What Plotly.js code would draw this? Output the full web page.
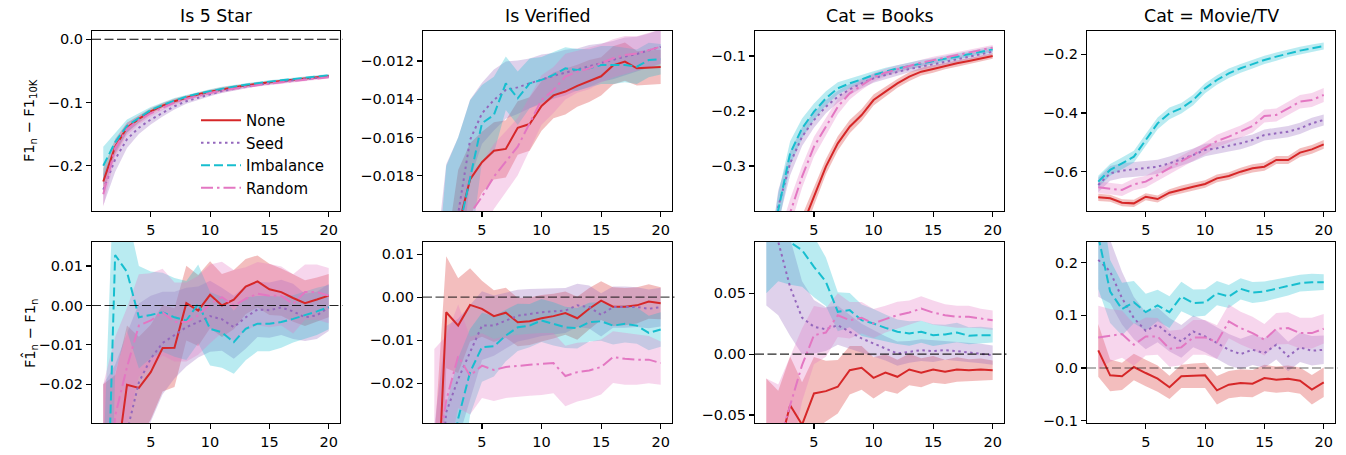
<!DOCTYPE html>
<html><head><meta charset="utf-8">
<script src="https://cdn.plot.ly/plotly-3.0.1.min.js"></script>
<style>html,body{margin:0;padding:0;background:#fff}#chart{width:1346px;height:455px}</style>
</head><body><div id="chart"></div>
<script>
// ---------------- data ----------------
const steps = [1,2,3,4,5,6,7,8,9,10,11,12,13,14,15,16,17,18,19,20];
const methods = ['None','Seed','Imbalance','Random'];
const panelTitles = ['Is 5 Star','Is Verified','Cat = Books','Cat = Movie/TV'];
const xTickVals = [5,10,15,20];

// Row 1: F1_n - F1_10K
const star_gap_mean = {
  None:      [-0.225,-0.170,-0.140,-0.126,-0.114,-0.105,-0.098,-0.092,-0.087,-0.083,-0.079,-0.076,-0.073,-0.070,-0.068,-0.066,-0.064,-0.062,-0.060,-0.058],
  Seed:      [-0.238,-0.190,-0.158,-0.140,-0.127,-0.116,-0.106,-0.098,-0.092,-0.087,-0.082,-0.078,-0.075,-0.072,-0.069,-0.067,-0.065,-0.063,-0.061,-0.059],
  Imbalance: [-0.200,-0.163,-0.137,-0.124,-0.112,-0.104,-0.097,-0.091,-0.086,-0.082,-0.078,-0.075,-0.072,-0.069,-0.067,-0.065,-0.063,-0.061,-0.059,-0.057],
  Random:    [-0.245,-0.172,-0.142,-0.128,-0.117,-0.108,-0.100,-0.094,-0.089,-0.085,-0.081,-0.078,-0.075,-0.072,-0.070,-0.068,-0.066,-0.064,-0.062,-0.060]
};
const star_gap_err = {
  None:      [0.020,0.012,0.008,0.006,0.005,0.004,0.004,0.003,0.003,0.003,0.003,0.003,0.002,0.002,0.002,0.002,0.002,0.002,0.002,0.002],
  Seed:      [0.025,0.020,0.014,0.010,0.008,0.006,0.005,0.004,0.004,0.003,0.003,0.003,0.003,0.002,0.002,0.002,0.002,0.002,0.002,0.002],
  Imbalance: [0.030,0.015,0.010,0.007,0.005,0.004,0.004,0.003,0.003,0.003,0.003,0.003,0.002,0.002,0.002,0.002,0.002,0.002,0.002,0.002],
  Random:    [0.020,0.014,0.010,0.007,0.005,0.004,0.004,0.003,0.003,0.003,0.003,0.003,0.002,0.002,0.002,0.002,0.002,0.002,0.002,0.002]
};
const verified_gap_mean = {
  None:      [-0.0350,-0.0260,-0.0207,-0.0182,-0.0173,-0.0167,-0.0166,-0.0155,-0.0153,-0.01435,-0.0138,-0.0136,-0.0133,-0.01305,-0.0128,-0.01223,-0.01203,-0.01238,-0.01235,-0.01231],
  Seed:      [-0.0320,-0.0250,-0.0200,-0.01613,-0.01474,-0.01404,-0.01352,-0.01338,-0.01317,-0.01296,-0.01278,-0.01261,-0.01244,-0.01226,-0.01209,-0.01195,-0.01177,-0.01163,-0.01146,-0.01125],
  Imbalance: [-0.0340,-0.0260,-0.0210,-0.01805,-0.01526,-0.01482,-0.01317,-0.01395,-0.01317,-0.01299,-0.01273,-0.01238,-0.01247,-0.01238,-0.01221,-0.01221,-0.01221,-0.01230,-0.01195,-0.01191],
  Random:    [-0.0360,-0.0280,-0.0225,-0.0200,-0.0191,-0.01805,-0.01727,-0.01648,-0.01526,-0.01404,-0.01352,-0.01282,-0.01256,-0.01238,-0.01212,-0.01186,-0.01169,-0.01160,-0.01143,-0.01125]
};
const verified_gap_err = {
  None:      [0.0050,0.0040,0.0030,0.0019,0.0016,0.0015,0.0015,0.0014,0.0014,0.0013,0.0012,0.0012,0.0011,0.0011,0.0010,0.0010,0.0010,0.0009,0.0009,0.0009],
  Seed:      [0.0090,0.0076,0.0040,0.0021,0.0016,0.0016,0.0015,0.0014,0.0013,0.0013,0.0012,0.0012,0.0011,0.0011,0.0010,0.0010,0.0010,0.0009,0.0009,0.0009],
  Imbalance: [0.0090,0.0085,0.0050,0.0040,0.0020,0.0020,0.0014,0.0014,0.0013,0.0012,0.0012,0.0011,0.0011,0.0010,0.0010,0.0010,0.0009,0.0009,0.0009,0.0008],
  Random:    [0.0060,0.0045,0.0030,0.0022,0.0018,0.0017,0.0016,0.0015,0.0014,0.0013,0.0012,0.0012,0.0011,0.0011,0.0010,0.0010,0.0010,0.0009,0.0009,0.0009]
};
const books_gap_mean = {
  None:      [-0.700,-0.600,-0.500,-0.410,-0.3558,-0.3012,-0.2588,-0.2285,-0.2073,-0.1800,-0.1648,-0.1497,-0.1376,-0.1285,-0.1236,-0.1182,-0.1133,-0.1091,-0.1042,-0.1000],
  Seed:      [-0.550,-0.374,-0.295,-0.2467,-0.2164,-0.1921,-0.1740,-0.1606,-0.1497,-0.1406,-0.1345,-0.1285,-0.1236,-0.1194,-0.1152,-0.1109,-0.1061,-0.1012,-0.0964,-0.0921],
  Imbalance: [-0.550,-0.380,-0.277,-0.2315,-0.2012,-0.1770,-0.1588,-0.1497,-0.1424,-0.1345,-0.1285,-0.1224,-0.1182,-0.1133,-0.1091,-0.1048,-0.1012,-0.0970,-0.0927,-0.0879],
  Random:    [-0.600,-0.470,-0.385,-0.3194,-0.2648,-0.2285,-0.1921,-0.1679,-0.1527,-0.1388,-0.1303,-0.1236,-0.1182,-0.1121,-0.1073,-0.1024,-0.0982,-0.0939,-0.0891,-0.0848]
};
const books_gap_err = {
  None:      [0.050,0.040,0.030,0.020,0.016,0.014,0.013,0.012,0.011,0.010,0.009,0.008,0.008,0.007,0.007,0.006,0.006,0.006,0.006,0.005],
  Seed:      [0.050,0.030,0.022,0.017,0.014,0.012,0.011,0.010,0.009,0.008,0.007,0.007,0.006,0.006,0.006,0.005,0.005,0.005,0.005,0.005],
  Imbalance: [0.050,0.030,0.022,0.018,0.015,0.013,0.011,0.009,0.008,0.007,0.007,0.006,0.006,0.006,0.005,0.005,0.005,0.005,0.005,0.005],
  Random:    [0.050,0.040,0.025,0.020,0.018,0.016,0.014,0.011,0.009,0.008,0.007,0.007,0.006,0.006,0.006,0.005,0.005,0.005,0.005,0.005]
};
const movie_gap_mean = {
  None:      [-0.6875,-0.6909,-0.7057,-0.7080,-0.6852,-0.6932,-0.6716,-0.6602,-0.6511,-0.6420,-0.6227,-0.6148,-0.6000,-0.5886,-0.5830,-0.5602,-0.5602,-0.5352,-0.5239,-0.5068],
  Seed:      [-0.6455,-0.6057,-0.5966,-0.5920,-0.5886,-0.5830,-0.5716,-0.5580,-0.5432,-0.5261,-0.5205,-0.5114,-0.5034,-0.4920,-0.4750,-0.4693,-0.4636,-0.4523,-0.4352,-0.4239],
  Imbalance: [-0.6340,-0.5940,-0.5716,-0.5489,-0.4920,-0.4352,-0.4011,-0.3840,-0.3557,-0.3159,-0.2875,-0.2648,-0.2477,-0.2330,-0.2193,-0.2080,-0.1966,-0.1875,-0.1795,-0.1716],
  Random:    [-0.6534,-0.6568,-0.6625,-0.6432,-0.6340,-0.6114,-0.5886,-0.5659,-0.5432,-0.5205,-0.4955,-0.4807,-0.4636,-0.4443,-0.4102,-0.4068,-0.3840,-0.3614,-0.3557,-0.3386]
};
const movie_gap_err = {
  None:      [0.012,0.012,0.012,0.012,0.012,0.012,0.012,0.013,0.013,0.013,0.013,0.013,0.013,0.014,0.014,0.014,0.014,0.015,0.015,0.015],
  Seed:      [0.025,0.025,0.025,0.025,0.025,0.024,0.023,0.022,0.022,0.021,0.020,0.020,0.020,0.019,0.019,0.019,0.019,0.019,0.019,0.019],
  Imbalance: [0.020,0.020,0.020,0.020,0.020,0.020,0.020,0.018,0.018,0.017,0.016,0.016,0.015,0.015,0.014,0.014,0.013,0.013,0.013,0.012],
  Random:    [0.020,0.020,0.020,0.020,0.020,0.020,0.020,0.020,0.020,0.020,0.021,0.021,0.021,0.022,0.022,0.022,0.023,0.023,0.024,0.024]
};

// Row 2: estimated F1_n - F1_n
const star_est_mean = {
  None:      [-0.0500,-0.0426,-0.0201,-0.0209,-0.0169,-0.0108,-0.0107,0.0006,-0.0013,0.0027,0.0000,0.0015,0.0048,0.0061,0.0041,0.0034,0.0019,0.0006,0.0015,0.0025],
  Seed:      [-0.0600,-0.0450,-0.0320,-0.0195,-0.0135,-0.0095,-0.0075,-0.0055,-0.0042,-0.0027,-0.0035,-0.0055,-0.0030,-0.0010,-0.0012,-0.0005,-0.0015,-0.0030,-0.0025,-0.0005],
  Imbalance: [-0.0900,0.0128,0.0085,-0.0030,-0.0024,-0.0017,-0.0030,-0.0038,0.0004,-0.0059,-0.0068,-0.0093,-0.0059,-0.0046,-0.0046,-0.0042,-0.0034,-0.0025,-0.0015,-0.0004],
  Random:    [-0.0600,-0.0280,-0.0156,-0.0051,-0.0038,-0.0017,-0.0042,-0.0042,-0.0025,0.0004,0.0021,0.0000,0.0017,0.0030,0.0025,0.0024,0.0004,0.0034,0.0034,0.0025]
};
const star_est_err = {
  None:      [0.030,0.025,0.015,0.013,0.012,0.011,0.010,0.0095,0.009,0.0085,0.008,0.0075,0.007,0.0066,0.0065,0.006,0.006,0.0058,0.0056,0.0055],
  Seed:      [0.040,0.030,0.025,0.020,0.016,0.013,0.011,0.010,0.009,0.009,0.008,0.008,0.008,0.007,0.007,0.007,0.007,0.006,0.006,0.006],
  Imbalance: [0.050,0.030,0.015,0.013,0.011,0.010,0.010,0.010,0.010,0.0093,0.009,0.008,0.008,0.007,0.007,0.0065,0.006,0.006,0.006,0.0056],
  Random:    [0.040,0.020,0.015,0.013,0.012,0.011,0.010,0.010,0.010,0.010,0.009,0.009,0.008,0.008,0.008,0.0075,0.0075,0.007,0.007,0.007]
};
const verified_est_mean = {
  None:      [-0.0637,-0.0035,-0.0066,-0.0018,-0.0027,-0.0044,-0.0036,-0.0058,-0.0056,-0.0049,-0.0044,-0.0037,-0.0049,-0.0027,-0.0008,-0.0022,-0.0022,-0.0019,-0.0010,-0.0014],
  Seed:      [-0.0600,-0.0267,-0.0190,-0.0128,-0.0066,-0.0066,-0.0054,-0.0043,-0.0039,-0.0035,-0.0033,-0.0031,-0.0019,-0.0023,-0.0041,-0.0023,-0.0023,-0.0023,-0.0027,-0.0023],
  Imbalance: [-0.0700,-0.0450,-0.0282,-0.0174,-0.0116,-0.0114,-0.0089,-0.0070,-0.0066,-0.0054,-0.0062,-0.0070,-0.0072,-0.0058,-0.0056,-0.0066,-0.0062,-0.0066,-0.0083,-0.0075],
  Random:    [-0.0420,-0.0240,-0.0137,-0.0182,-0.0159,-0.0169,-0.0162,-0.0159,-0.0157,-0.0155,-0.0153,-0.0183,-0.0174,-0.0170,-0.0162,-0.0139,-0.0143,-0.0145,-0.0145,-0.0153]
};
const verified_est_err = {
  None:      [0.030,0.013,0.011,0.0085,0.0065,0.006,0.0058,0.0056,0.0055,0.0054,0.0052,0.005,0.005,0.0048,0.0045,0.0045,0.0043,0.0042,0.004,0.0037],
  Seed:      [0.030,0.020,0.014,0.011,0.008,0.007,0.0065,0.006,0.0058,0.0055,0.0053,0.0052,0.005,0.005,0.005,0.0048,0.0048,0.0046,0.0045,0.0045],
  Imbalance: [0.030,0.020,0.014,0.010,0.008,0.007,0.006,0.0055,0.005,0.005,0.005,0.0048,0.0047,0.0045,0.0045,0.0044,0.0043,0.0042,0.004,0.004],
  Random:    [0.030,0.015,0.012,0.009,0.0075,0.0072,0.0072,0.0072,0.0072,0.0072,0.007,0.007,0.0068,0.0066,0.0064,0.006,0.006,0.0058,0.0055,0.005]
};
const books_est_mean = {
  None:      [-0.100,-0.080,-0.042,-0.058,-0.0323,-0.0304,-0.0268,-0.0132,-0.0112,-0.0195,-0.0151,-0.0186,-0.0126,-0.0153,-0.0126,-0.0145,-0.0126,-0.0132,-0.0126,-0.0132],
  Seed:      [0.130,0.092,0.055,0.030,0.0225,0.0205,0.0238,0.0184,0.0129,0.0088,0.0047,0.0005,0.0019,0.0033,0.0025,0.0033,0.0025,0.0014,0.0005,-0.0008],
  Imbalance: [0.150,0.110,0.092,0.0855,0.0718,0.0595,0.0348,0.0362,0.0279,0.0252,0.0216,0.0184,0.0170,0.0184,0.0156,0.0162,0.0178,0.0151,0.0156,0.0156],
  Random:    [-0.100,-0.075,-0.042,-0.009,0.0156,0.0178,0.0320,0.0279,0.0299,0.0252,0.0288,0.0320,0.0342,0.0375,0.0342,0.0320,0.0307,0.0307,0.0293,0.0279]
};
const books_est_err = {
  None:      [0.080,0.050,0.040,0.035,0.030,0.025,0.022,0.020,0.018,0.017,0.015,0.014,0.013,0.012,0.011,0.010,0.010,0.009,0.009,0.008],
  Seed:      [0.090,0.060,0.040,0.030,0.022,0.018,0.016,0.014,0.012,0.011,0.010,0.010,0.009,0.009,0.009,0.008,0.008,0.008,0.008,0.008],
  Imbalance: [0.100,0.050,0.035,0.030,0.025,0.020,0.016,0.014,0.013,0.012,0.011,0.010,0.010,0.009,0.009,0.008,0.008,0.007,0.007,0.006],
  Random:    [0.080,0.050,0.040,0.030,0.024,0.020,0.018,0.015,0.013,0.012,0.011,0.011,0.010,0.010,0.010,0.009,0.009,0.009,0.008,0.008]
};
const movie_est_mean = {
  None:      [0.0335,-0.0139,-0.0158,0.0019,-0.0095,-0.0202,-0.0366,-0.0158,-0.0145,-0.0139,-0.0423,-0.0316,-0.0284,-0.0297,-0.0190,-0.0221,-0.0202,-0.0240,-0.0411,-0.0272],
  Seed:      [0.2053,0.1832,0.1327,0.0948,0.0708,0.0821,0.0632,0.0505,0.0695,0.0600,0.0474,0.0347,0.0265,0.0347,0.0284,0.0442,0.0221,0.0392,0.0328,0.0347],
  Imbalance: [0.2500,0.1453,0.1118,0.1251,0.1061,0.1188,0.1061,0.1358,0.1232,0.1244,0.1421,0.1358,0.1503,0.1434,0.1453,0.1503,0.1548,0.1611,0.1630,0.1630],
  Random:    [0.0581,0.0619,0.0644,0.0442,0.0600,0.0600,0.0366,0.0392,0.0581,0.0581,0.0493,0.0884,0.0758,0.0663,0.0537,0.0745,0.0758,0.0663,0.0663,0.0745]
};
const movie_est_err = {
  None:      [0.050,0.030,0.026,0.025,0.025,0.025,0.022,0.022,0.023,0.024,0.027,0.026,0.026,0.026,0.025,0.025,0.025,0.025,0.028,0.028],
  Seed:      [0.070,0.060,0.050,0.040,0.035,0.033,0.032,0.031,0.030,0.030,0.030,0.030,0.029,0.029,0.028,0.028,0.028,0.028,0.028,0.027],
  Imbalance: [0.100,0.060,0.050,0.040,0.035,0.030,0.030,0.028,0.026,0.025,0.023,0.022,0.020,0.020,0.019,0.018,0.017,0.016,0.016,0.015],
  Random:    [0.060,0.050,0.045,0.040,0.036,0.035,0.034,0.034,0.033,0.033,0.032,0.032,0.031,0.031,0.030,0.030,0.030,0.029,0.029,0.028]
};

const yTickVals = [
  [0, -0.1, -0.2],
  [-0.012, -0.014, -0.016, -0.018],
  [-0.1, -0.2, -0.3],
  [-0.2, -0.4, -0.6],
  [0.01, 0, -0.01, -0.02],
  [0.01, 0, -0.01, -0.02],
  [0.05, 0, -0.05],
  [0.2, 0.1, 0, -0.1]
];

// ---------------- styling / layout config ----------------
const style = {
  None:      {color:'#d62728', fill:'rgba(214,39,40,0.30)',  dash:'solid'},
  Seed:      {color:'#9467bd', fill:'rgba(148,103,189,0.30)', dash:'2.5px,3.5px'},
  Imbalance: {color:'#17becf', fill:'rgba(23,190,207,0.30)',  dash:'9px,4px'},
  Random:    {color:'#e377c2', fill:'rgba(227,119,194,0.30)', dash:'12px,4px,2.5px,4px'}
};
const W = 1346, H = 455;
const colPx = [[92,340],[423,672],[755,1004],[1087,1335]];
const rowPx = [[31,211],[242,423]];
const panels = [
  {mean:star_gap_mean,     err:star_gap_err,     range:[-0.2717,0.0131],    fmt:'.1f', zero:true,  zeroAlpha:1},
  {mean:verified_gap_mean, err:verified_gap_err, range:[-0.01985,-0.01043], fmt:'.3f', zero:false},
  {mean:books_gap_mean,    err:books_gap_err,    range:[-0.3818,-0.0545],   fmt:'.1f', zero:false},
  {mean:movie_gap_mean,    err:movie_gap_err,    range:[-0.734,-0.1206],    fmt:'.1f', zero:false},
  {mean:star_est_mean,     err:star_est_err,     range:[-0.0298,0.0161],    fmt:'.2f', zero:true, zeroAlpha:0.85},
  {mean:verified_est_mean, err:verified_est_err, range:[-0.0292,0.0128],    fmt:'.2f', zero:true, zeroAlpha:0.7},
  {mean:books_est_mean,    err:books_est_err,    range:[-0.0566,0.0922],    fmt:'.2f', zero:true, zeroAlpha:0.85},
  {mean:movie_est_mean,    err:movie_est_err,    range:[-0.1044,0.2393],    fmt:'.1f', zero:true, zeroAlpha:0.6}
];

const font = 'DejaVu Sans, sans-serif';
const tickFont = {family:font, size:14.5, color:'#000'};
const traces = [], lineTraces = [];
const layout = {
  width:W, height:H, margin:{l:0,r:0,t:0,b:0},
  paper_bgcolor:'#fff', plot_bgcolor:'#fff',
  font:{family:font, color:'#000'},
  showlegend:true,
  legend:{x:196/W, y:1-104/H, xanchor:'left', yanchor:'top', bgcolor:'rgba(0,0,0,0)',
          font:{family:font, size:15, color:'#000'}, tracegroupgap:0, itemwidth:40},
  shapes:[], annotations:[]
};

panels.forEach((p, i) => {
  const r = Math.floor(i/4), c = i % 4;
  const n = i + 1, xs = n === 1 ? '' : String(n);
  layout['xaxis'+xs] = {
    domain:[colPx[c][0]/W, colPx[c][1]/W], anchor:'y'+xs, range:[0.05,20.95],
    tickvals:xTickVals, ticks:'outside', ticklen:5, tickwidth:1.1, tickcolor:'#000',
    showline:true, mirror:true, linecolor:'#000', linewidth:1.1,
    showgrid:false, zeroline:false, tickfont:tickFont
  };
  layout['yaxis'+xs] = {
    domain:[1-rowPx[r][1]/H, 1-rowPx[r][0]/H], anchor:'x'+xs, range:p.range,
    tickvals:yTickVals[i], tickformat:p.fmt, ticks:'outside', ticklen:5, tickwidth:1.1, tickcolor:'#000',
    showline:true, mirror:true, linecolor:'#000', linewidth:1.1,
    showgrid:false, zeroline:false, tickfont:tickFont
  };
  methods.forEach(m => {
    const mean = p.mean[m], err = p.err[m];
    const upper = mean.map((v,k)=>v+err[k]);
    const lower = mean.map((v,k)=>v-err[k]);
    traces.push({
      x: steps.concat(steps.slice().reverse()),
      y: upper.concat(lower.slice().reverse()),
      xaxis:'x'+xs, yaxis:'y'+xs, type:'scatter', mode:'lines',
      fill:'toself', fillcolor:style[m].fill, line:{width:0, color:'rgba(0,0,0,0)'},
      showlegend:false, hoverinfo:'skip'
    });
    lineTraces.push({
      x: steps, y: mean, xaxis:'x'+xs, yaxis:'y'+xs, type:'scatter', mode:'lines',
      name:m, line:{color:style[m].color, width:2, dash:style[m].dash},
      showlegend: i === 0, hoverinfo:'skip'
    });
  });
  if (p.zero) {
    layout.shapes.push({type:'line', xref:'x'+xs+' domain', yref:'y'+xs, x0:0, x1:1.01, y0:0, y1:0,
      line:{color:'rgba(0,0,0,'+p.zeroAlpha+')', width:1.1, dash:'9px,3.5px'}});
  }
  if (r === 0) {
    layout.annotations.push({text:panelTitles[c], xref:'paper', yref:'paper',
      x:(colPx[c][0]+colPx[c][1])/2/W, y:1-16/H, xanchor:'center', yanchor:'middle',
      showarrow:false, font:{family:font, size:17.4, color:'#000'}});
  }
});

layout.annotations.push({text:'F1<sub>n</sub> − F1<sub>10K</sub>', xref:'paper', yref:'paper',
  x:30/W, y:1-121/H, xanchor:'center', yanchor:'middle', textangle:-90, showarrow:false,
  font:{family:font, size:14.5, color:'#000'}});
layout.annotations.push({text:'F1\u0302<sub>n</sub> − F1<sub>n</sub>', xref:'paper', yref:'paper',
  x:30/W, y:1-334/H, xanchor:'center', yanchor:'middle', textangle:-90, showarrow:false,
  font:{family:font, size:14.5, color:'#000'}});

Plotly.newPlot('chart', traces.concat(lineTraces), layout, {staticPlot:true, displayModeBar:false});
</script>
</body></html>
